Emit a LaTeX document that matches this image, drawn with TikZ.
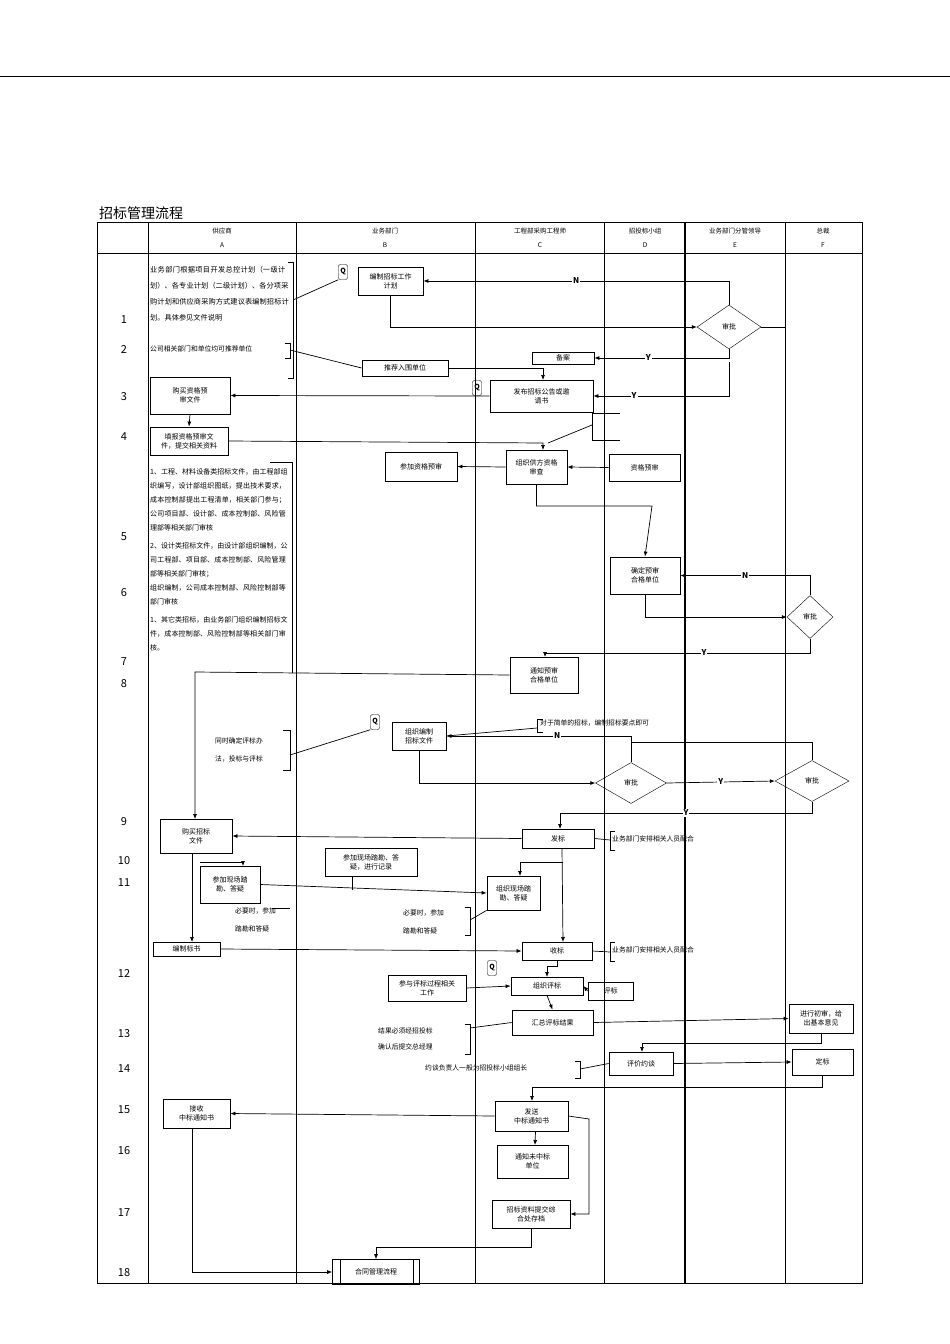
\documentclass[tikz,border=0pt]{standalone}
\usepackage{fontspec}
\setmainfont{Noto Sans CJK SC}
\XeTeXlinebreaklocale "zh"
\XeTeXlinebreakskip=0pt plus 1pt
\usetikzlibrary{shapes.geometric,arrows.meta}
\tikzset{
  box/.style={draw,line width=0.8pt,align=center,inner sep=1pt,font=\fontsize{7}{9}\selectfont},
  dia/.style={draw,diamond,inner sep=0pt,font=\fontsize{7}{8}\selectfont},
  note/.style={anchor=north west,align=left,inner sep=0pt,font=\fontsize{6.8}{10}\selectfont},
  lbl/.style={font=\bfseries\fontsize{8}{8}\selectfont,fill=white,inner sep=1pt},
  q/.style={draw,rounded corners=2pt,minimum width=9pt,minimum height=15pt,inner sep=0pt,font=\bfseries\fontsize{7}{7}\selectfont},
  ar/.style={-{Latex[length=5pt,width=4pt]},line width=0.7pt},
  ln/.style={line width=0.7pt},
  num/.style={font=\fontsize{11}{11}\selectfont},
  hd/.style={font=\fontsize{6.5}{7}\selectfont}
}
\newcommand\bx[7][]{\node[box,minimum width={#5-#3},minimum height={#6-#4},#1] (#2) at ({(#3+#5)/2},{(#4+#6)/2}) {#7};}
\begin{document}
\begin{tikzpicture}[x=1pt,y=-1pt]
\useasboundingbox (0,0) rectangle (950,1344);
\draw[line width=0.6pt] (0,76) -- (950,76);
\node[anchor=south west,inner sep=0pt,font=\fontsize{14}{14}\selectfont] (title) at (99,220) {招标管理流程};
% table
\draw[line width=1pt] (97,222) rectangle (862,1283);
\draw[line width=0.6pt] (97,253) -- (862,253);
\foreach \x/\w in {148/1,296/0.6,475/0.6,604/0.6,685/1.2,785/0.6}
  \draw[line width=\w pt] (\x,222) -- (\x,1283);
\foreach \c/\t/\l in {222/供应商/A,385/业务部门/B,540/工程部采购工程师/C,645/招投标小组/D,735/业务部门分管领导/E,823/总裁/F}{
  \node[hd] at (\c,231) {\t};
  \node[hd] at (\c,245) {\l};}
\foreach \n/\y in {1/320,2/350,3/397,4/437,5/537,6/593,7/662,8/684,9/822,10/861,11/883,12/973,13/1034,14/1069,15/1110,16/1151,17/1213,18/1273}
  \node[num] at (124,\y) {\n};

% ---- row 1
\node[note,text width=140pt,font=\fontsize{7.2}{16}\selectfont] (n1) at (150,266) {业务部门根据项目开发总控计划（一级计划）、各专业计划（二级计划）、各分项采购计划和供应商采购方式建议表编制招标计划。具体参见文件说明};
\draw[ln] (288,262) -- (293,262) -- (293,378) -- (288,378);
\node[q] (q1) at (343,272) {Q};
\draw[ln] (293,300) -- (q1.south west);
\bx{plan}{358}{267}{423}{295}{编制招标工作\\计划}
\node[dia,minimum width=64pt,minimum height=44pt] (d1) at (729,327) {审批};
\draw[ar] (plan.south) |- (d1.west);
\draw[ar] (d1.north) |- (plan.east) node[lbl,pos=0.75] {N};
\draw[ln] (d1.east) -- (785,327);
% ---- row 2
\node[note] (n2) at (150,346) {公司相关部门和单位均可推荐单位};
\draw[ln] (285,343) -- (290,343) -- (290,358) -- (285,358);
\bx{rec}{362}{360}{448}{376}{推荐入围单位}
\draw[ln] (290,350) -- (rec.west);
\bx{bei}{532}{352}{594}{364}{备案}
\draw[ar] (d1.south) |- (bei.east) node[lbl,pos=0.8] {Y};
% ---- row 3
\node[q] (q2) at (477,388) {Q};
\bx{pub}{490}{380}{593}{412}{发布招标公告或邀\\请书}
\draw[ar] (729,362) |- (pub.east) node[lbl,pos=0.85] {Y};
\draw[ar] (rec.east) -| (543,380);
\bx{buy1}{150}{377}{230}{414}{购买资格预\\审文件}
\draw[ar] (pub.west) -- (buy1.east);
% ---- row 4
\bx{fill}{150}{427}{228}{455}{填报资格预审文\\件，提交相关资料}
\draw[ar] (buy1.south) -- (fill.north);
\draw[ln] (620,413) -- (592,413) -- (592,440) -- (620,440);
\bx{org}{506}{450}{567}{484}{组织供方资格\\审查}
\draw[ar] (fill.east) -- (543,443) -- (543,450);
\draw[ln] (592,425) -- (548,443);
\bx{join}{385}{452}{457}{481}{参加资格预审}
\draw[ar] (org.west) -- (join.east);
\bx{pre}{609}{454}{680}{481}{资格预审}
\draw[ar] (pre.west) -- (org.east);
% ---- row 5 notes
\node[note,text width=138pt,font=\fontsize{7}{14}\selectfont] (n5) at (150,468) {1、工程、材料设备类招标文件，由工程部组织编写，设计部组织图纸，提出技术要求，成本控制部提出工程清单，相关部门参与；公司项目部、设计部、成本控制部、风险管理部等相关部门审核\\[4pt]2、设计类招标文件，由设计部组织编制，公司工程部、项目部、成本控制部、风险管理部等相关部门审核；\\组织编制，公司成本控制部、风险控制部等部门审核\\[4pt]1、其它类招标，由业务部门组织编制招标文件，成本控制部、风险控制部等相关部门审核。};
\draw[ln] (270,462) -- (292,462) -- (292,673);
\bx{conf}{610}{557}{680}{594}{确定预审\\合格单位}
\draw[ar] (org.south) |- (652,506) -- (conf.north);
\node[dia,minimum width=46pt,minimum height=43pt] (d2) at (810,617) {审批};
\draw[ar] (conf.south) |- (d2.west);
\draw[ar] (d2.north) |- (conf.east) node[lbl,pos=0.75] {N};
\bx{noti}{510}{657}{578}{693}{通知预审\\合格单位}
\draw[ar] (d2.south) |- (545,653) node[lbl,pos=0.7] {Y} -- (545,657);
% ---- rows 8-9
\bx{buy2}{160}{819}{232}{853}{购买招标\\文件}
\draw[ar] (noti.west) -- (195,672) -- (195,819);
\node[note,font=\fontsize{6.8}{18}\selectfont] (n8) at (215,738) {同时确定评标办\\法，投标与评标};
\draw[ln] (283,730) -- (290,730) -- (290,770) -- (283,770);
\node[q] (q3) at (375,722) {Q};
\draw[ln] (290,755) -- (q3.south west);
\bx{comp}{392}{722}{446}{750}{组织编制\\招标文件}
\node[note] (n9) at (540,720) {对于简单的招标，编制招标要点即可};
\draw[ln] (543,719) -- (537,719) -- (537,732) -- (543,732);
\draw[ln] (537,728) -- (comp.east);
\node[dia,minimum width=71pt,minimum height=41pt] (d3) at (631,783) {审批};
\node[dia,minimum width=74pt,minimum height=41pt] (d4) at (812,781) {审批};
\draw[ar] (comp.south) |- (d3.west);
\draw[ar] (d3.east) -- (d4.west) node[lbl,midway] {Y};
\draw[ln] (d4.north) |- (631,742);
\draw[ar] (d3.north) |- (comp.east) node[lbl,pos=0.7] {N};
\bx{fa}{522}{829}{594}{848}{发标}
\draw[ar] (d4.south) |- (560,813) node[lbl,pos=0.75] {Y} -- (560,829);
\draw[ar] (fa.west) -- (buy2.east);
\node[note] (n10) at (612,836) {业务部门安排相关人员配合};
\draw[ln] (615,831) -- (610,831) -- (610,850) -- (615,850);
\draw[ln] (fa.east) -- (610,840);
% ---- rows 10-11
\bx{site}{200}{866}{260}{903}{参加现场踏\\勘、答疑}
\draw[ar] (200,862) -- (243,862) -- (243,866);
\bx{rec2}{325}{848}{417}{876}{参加现场踏勘、答\\疑，进行记录}
\bx{osite}{487}{876}{540}{910}{组织现场踏\\勘、答疑}
\draw[ar] (site.east) -- (osite.west);
\draw[ln] (352,876) -- (352,890);
\draw[ar] (563,862) -- (520,862) -- (520,876);
\node[note,font=\fontsize{6.8}{18}\selectfont] (n11a) at (235,908) {必要时，参加\\踏勘和答疑};
\draw[ln] (272,908) -- (290,908);
\node[note,font=\fontsize{6.8}{18}\selectfont] (n11b) at (403,910) {必要时，参加\\踏勘和答疑};
\draw[ln] (465,907) -- (470,907) -- (470,935) -- (465,935);
\draw[ln] (470,920) -- (osite.south west);
% ---- row 12
\bx{bian}{153}{942}{220}{956}{编制标书}
\draw[ar] (buy2.south) ++(-4,0) -- (192,942);
\bx{shou}{522}{942}{592}{960}{收标}
\draw[ar] (fa.south) ++(4,0) -- (563,942);
\draw[ar] (bian.east) -- (shou.west);
\node[note] (n12) at (612,947) {业务部门安排相关人员配合};
\draw[ln] (615,942) -- (610,942) -- (610,961) -- (615,961);
\draw[ln] (shou.east) -- (610,952);
\node[q] (q4) at (492,968) {Q};
\bx{ping}{511}{977}{583}{995}{组织评标}
\draw[ar] (shou.south) -- ++(0,6) -| (547,977);
\bx{canyu}{388}{975}{466}{1001}{参与评标过程相关\\工作}
\draw[ar] (canyu.east) -- (ping.west);
\bx{pb}{588}{982}{633}{1000}{评标}
\draw[ar] (pb.west) -- (ping.east);
% ---- row 13
\bx{hui}{512}{1010}{593}{1035}{汇总评标结果}
\draw[ar] (ping.south) -- (hui.north);
\node[note,font=\fontsize{6.8}{16}\selectfont] (n13) at (378,1028) {结果必须经招投标\\确认后提交总经理};
\draw[ln] (465,1024) -- (470,1024) -- (470,1054) -- (465,1054);
\draw[ln] (470,1028) -- (hui.west);
\bx{chu}{789}{1004}{853}{1033}{进行初审，给\\出基本意见}
\draw[ar] (hui.east) -- (chu.west);
% ---- row 14
\bx{yue}{609}{1052}{673}{1075}{评价约谈}
\draw[ar] (chu.south) |- (642,1043) -- (642,1052);
\node[note] (n14) at (425,1065) {约谈负责人一般为招投标小组组长};
\draw[ln] (575,1061) -- (580,1061) -- (580,1078) -- (575,1078);
\draw[ln] (580,1069) -- (yue.west);
\bx{ding}{792}{1049}{853}{1075}{定标}
\draw[ar] (yue.east) -- (ding.west);
% ---- rows 15-18
\bx{send}{495}{1101}{568}{1131}{发送\\中标通知书}
\draw[ar] (ding.south) |- (532,1087) -- (532,1101);
\bx{recv}{163}{1099}{230}{1128}{接收\\中标通知书}
\draw[ar] (send.west) -- (recv.east);
\bx{wei}{497}{1145}{568}{1178}{通知未中标\\单位}
\draw[ar] (send.south) ++(4,0) -- (535,1145);
\bx{arch}{492}{1200}{570}{1228}{招标资料提交综\\合处存档}
\draw[ar] (send.east) -- (589,1119) |- (arch.east);
\node[box,minimum width=87pt,minimum height=25pt] (ht) at (376,1272) {合同管理流程};
\draw[line width=0.6pt] (340,1260) -- (340,1285) (413,1260) -- (413,1285);
\draw[ar] (arch.south) -- ++(0,19) -| (ht.north);
\draw[ar] (recv.south) ++(-4,0) |- (ht.west);
\end{tikzpicture}
\end{document}
